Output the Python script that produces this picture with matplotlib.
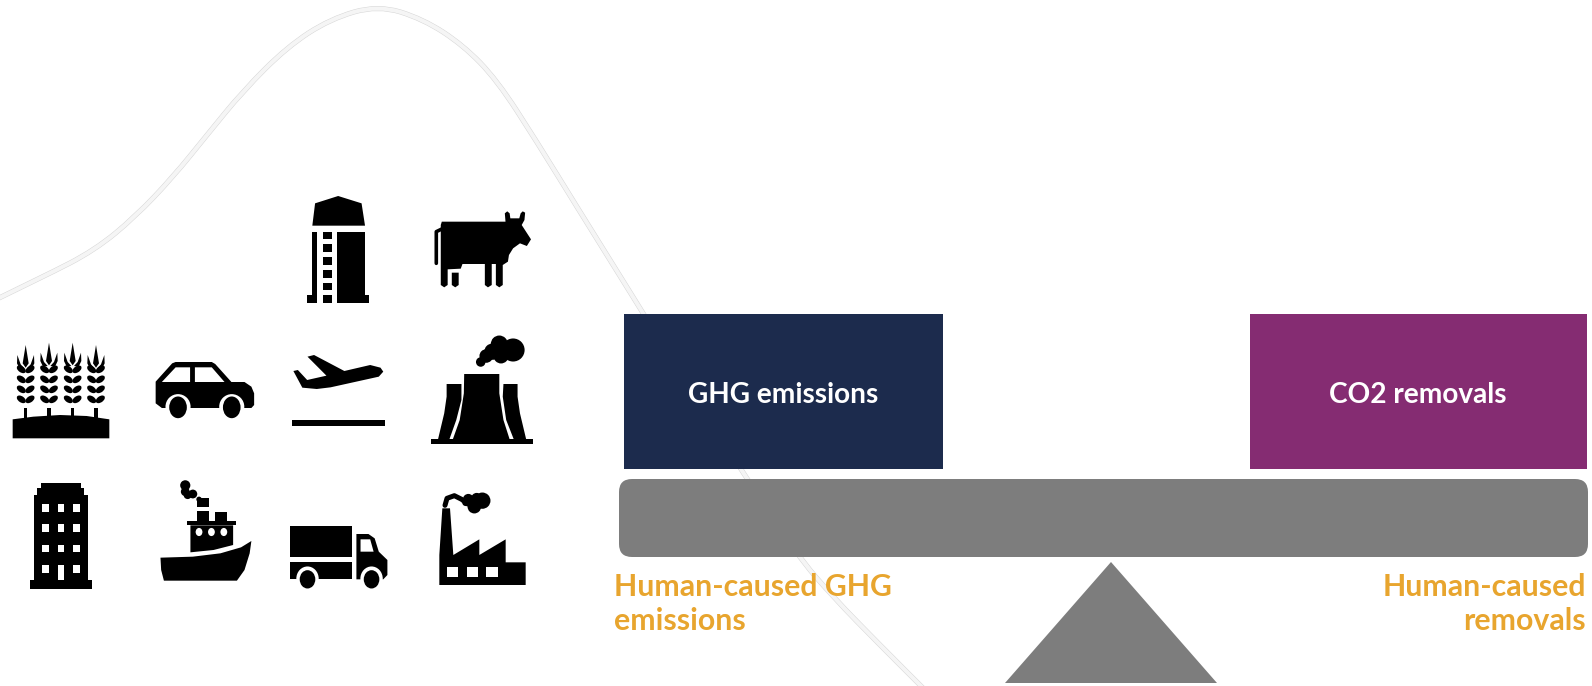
import numpy as np
import matplotlib
matplotlib.use("Agg")
import matplotlib.pyplot as plt
from matplotlib.patches import Rectangle, FancyBboxPatch, Polygon, Ellipse, PathPatch
from matplotlib.path import Path

plt.rcParams["font.family"] = ["Lato", "DejaVu Sans"]

W, H = 1592, 686

left_label = "GHG emissions"
right_label = "CO2 removals"
left_caption = "Human-caused GHG\nemissions"
right_caption = "Human-caused\nremovals"

NAVY = "#1c2b4d"
PURPLE = "#852c72"
GREY = "#7d7d7d"
ORANGE = "#e8a52e"

# background curve, control points
curve_x = [-30, 45, 95, 135, 173, 207, 243, 287, 330, 378, 423, 463, 497, 537, 577, 630, 685, 740, 797, 833, 880, 925, 970]
curve_y = [312, 276, 250, 217, 177, 135, 91, 47, 19, 5, 19, 45, 80, 142, 207, 292, 381, 468, 555, 597, 645, 690, 735]

fig = plt.figure(figsize=(W / 100, H / 100), dpi=100)
ax = fig.add_axes([0, 0, 1, 1])
ax.set_xlim(0, W)
ax.set_ylim(H, 0)
ax.axis("off")


def z1(pts):
    # upper icon crop
    return [(x / 2.904, 180 + y / 3) for x, y in pts]


def z2(pts):
    # lower icon crop
    return [(x / 2.904, 460 + y / 3) for x, y in pts]


def z3(pts):
    # factory crop
    return [(425 + x / 3, 480 + y / 3) for x, y in pts]


def z4(pts):
    # wheat crop
    return [(x / 3, 330 + y / 3) for x, y in pts]


def poly(pts, color="black"):
    ax.add_patch(Polygon(pts, closed=True, fc=color, ec="none", zorder=3))


def box(z, x0, y0, x1, y1, color="black"):
    poly(z([(x0, y0), (x1, y0), (x1, y1), (x0, y1)]), color)


def oval(z, x, y, rx, ry, color="black", angle=0):
    cx, cy = z([(x, y)])[0]
    ax.add_patch(Ellipse((cx, cy), 2 * rx / 2.95, 2 * ry / 2.95, angle=angle, fc=color, ec="none", zorder=3))


def line(z, pts, lw):
    p = np.array(z(pts))
    ax.plot(p[:, 0], p[:, 1], color="black", lw=lw, solid_capstyle="round", solid_joinstyle="round", zorder=3)


# curve
verts = [(curve_x[0], curve_y[0])]
codes = [Path.MOVETO]
for i in range(1, len(curve_x) - 1):
    verts.append((curve_x[i], curve_y[i]))
    verts.append(((curve_x[i] + curve_x[i + 1]) / 2, (curve_y[i] + curve_y[i + 1]) / 2))
    codes += [Path.CURVE3, Path.CURVE3]
ax.add_patch(PathPatch(Path(verts, codes), fc="none", ec="#d6d6d6", lw=3.6, zorder=1))
ax.add_patch(PathPatch(Path(verts, codes), fc="none", ec="#f5f5f5", lw=2.9, zorder=1))

# silo
poly(z1([(907, 137), (915, 70), (982, 48), (1050, 70), (1060, 137)]))
box(z1, 905, 155, 921, 350)
box(z1, 891, 345, 921, 368)
for y0, y1 in [(155, 178), (193, 216), (231, 254), (269, 293), (308, 331), (346, 368)]:
    box(z1, 938, y0, 964, y1)
box(z1, 980, 155, 1060, 350)
box(z1, 980, 345, 1073, 368)

# cow
poly(z1([(1283, 125), (1468, 125), (1466, 100), (1473, 94), (1480, 100), (1482, 115), (1508, 115), (1512, 100),
         (1518, 94), (1525, 98), (1523, 120), (1515, 135), (1542, 178), (1530, 198), (1510, 190), (1490, 205),
         (1478, 225), (1475, 245), (1460, 255), (1460, 315), (1450, 322), (1440, 315), (1440, 252), (1428, 252),
         (1428, 315), (1417, 322), (1408, 315), (1408, 252), (1343, 252), (1338, 266), (1300, 268), (1300, 315),
         (1290, 322), (1280, 315), (1280, 135)]))
poly(z1([(1312, 278), (1332, 278), (1332, 315), (1322, 322), (1312, 315)]))
line(z1, [(1283, 147), (1267, 155), (1267, 250)], 2.6)

# wheat
poly(z4([(38, 325), (38, 268), (100, 260), (180, 255), (260, 258), (328, 268), (328, 325)]))
for c, top in zip([77, 147, 218, 288], [45, 38, 38, 45]):
    box(z4, c - 5, 235, c + 5, 265)
    poly(z4([(c, top), (c + 9, top + 55), (c, top + 68), (c - 9, top + 55)]))
    poly(z4([(c - 25, top + 30), (c - 15, top + 58), (c - 4, top + 70), (c - 18, top + 72), (c - 26, top + 55)]))
    poly(z4([(c + 25, top + 30), (c + 15, top + 58), (c + 4, top + 70), (c + 18, top + 72), (c + 26, top + 55)]))
    for y in [118, 148, 178, 208]:
        oval(z4, c - 13, y, 15, 9, angle=35)
        oval(z4, c + 13, y, 15, 9, angle=-35)

# car
poly(z1([(452, 605), (500, 550), (510, 546), (615, 546), (625, 552), (672, 606), (710, 606), (730, 620), (738, 640),
         (738, 675), (730, 684), (470, 684), (452, 670)]))
poly(z1([(470, 606), (510, 562), (552, 562), (552, 606)]), "white")
poly(z1([(566, 562), (615, 562), (652, 606), (566, 606)]), "white")
for x in [517, 673]:
    oval(z1, x, 680, 37, 37, "white")
    oval(z1, x, 682, 26, 32)

# plane
poly(z1([(893, 530), (912, 525), (1000, 573), (1075, 555), (1105, 563), (1113, 575), (1100, 590), (960, 622),
         (920, 627), (878, 623), (852, 573), (865, 570), (892, 600), (948, 587)]))
box(z1, 848, 721, 1118, 737)

# cooling tower
for x, y, r in [(1490, 510, 34), (1450, 492, 25), (1430, 515, 24), (1412, 528, 20), (1396, 546, 14), (1455, 528, 22)]:
    oval(z1, x, y, r, r)
poly(z1([(1348, 582), (1450, 582), (1450, 640), (1462, 720), (1480, 778), (1315, 778), (1335, 720), (1347, 640)]))
poly(z1([(1297, 612), (1340, 612), (1340, 660), (1325, 720), (1305, 778), (1272, 778), (1290, 700), (1297, 650)]))
poly(z1([(1462, 612), (1503, 612), (1503, 650), (1510, 700), (1528, 778), (1492, 778), (1470, 720), (1460, 650)]))
box(z1, 1253, 778, 1548, 793)

# building
poly(z2([(100, 105), (108, 105), (108, 85), (118, 85), (118, 68), (235, 68), (235, 85), (245, 85), (245, 105),
         (255, 105), (255, 360), (268, 360), (268, 386), (87, 386), (87, 360), (100, 360)]))
for x0, x1 in [(122, 141), (167, 187), (212, 232)]:
    for y0, y1 in [(133, 156), (193, 216), (254, 277), (315, 338)]:
        box(z2, x0, y0, x1, 360 if (x0 == 167 and y0 == 315) else y1, "white")

# ship
poly(z2([(466, 293), (560, 290), (640, 280), (700, 262), (730, 243), (725, 280), (710, 330), (688, 362), (476, 362),
         (468, 330)]))
poly(z2([(553, 196), (677, 196), (677, 255), (620, 270), (553, 277)]))
box(z2, 543, 183, 685, 196)
box(z2, 572, 152, 608, 183)
box(z2, 624, 156, 660, 183)
box(z2, 572, 114, 608, 140)
for x in [578, 614, 650]:
    oval(z2, x, 216, 10, 12, "white")
for x, y, r in [(538, 76, 15), (538, 95, 13), (545, 105, 12), (560, 102, 13), (578, 118, 8)]:
    oval(z2, x, y, r, r)

# truck
box(z2, 841, 199, 1021, 291)
box(z2, 841, 306, 1021, 358)
poly(z2([(1035, 222), (1070, 222), (1088, 235), (1100, 275), (1125, 300), (1125, 345), (1113, 358), (1035, 358)]))
poly(z2([(1047, 238), (1075, 238), (1085, 275), (1047, 275)]), "white")
for x in [893, 1079]:
    oval(z2, x, 356, 33, 36, "white")
    oval(z2, x, 358, 23, 27)

# factory
poly(z3([(52, 85), (75, 85), (85, 225), (163, 178), (163, 225), (242, 178), (242, 247), (302, 247), (302, 315),
         (43, 315), (43, 225)]))
for x0, x1 in [(67, 100), (125, 159), (184, 218)]:
    box(z3, x0, 262, x1, 292, "white")
line(z3, [(60, 76), (66, 55), (88, 47), (110, 58), (128, 72)], 3.6)
for x, y, r in [(172, 62, 24), (148, 80, 20), (130, 58, 16), (155, 55, 16), (122, 68, 10)]:
    oval(z3, x, y, r, r)

# balance
ax.add_patch(Rectangle((624, 314), 319, 155, fc=NAVY, ec="none", zorder=2))
ax.add_patch(Rectangle((1250, 314), 337, 155, fc=PURPLE, ec="none", zorder=2))
ax.add_patch(FancyBboxPatch((632, 492), 943, 52, boxstyle="round,pad=13,rounding_size=13", fc=GREY, ec="none", zorder=2))
ax.add_patch(Polygon([(1111, 562), (1005, 683), (1217, 683)], closed=True, fc=GREY, ec="none", zorder=2))

ax.text(783, 395, left_label, color="white", fontsize=20.2, fontweight="bold", ha="center", va="center", zorder=4)
ax.text(1418, 395, right_label, color="white", fontsize=20.2, fontweight="bold", ha="center", va="center", zorder=4)
ax.text(614, 604, left_caption, color=ORANGE, fontsize=21.8, fontweight="bold", ha="left", va="center",
        linespacing=1.27, zorder=4)
ax.text(1586, 604, right_caption, color=ORANGE, fontsize=21.8, fontweight="bold", ha="right", va="center",
        linespacing=1.27, multialignment="right", zorder=4)

fig.savefig("out.png", dpi=100)
